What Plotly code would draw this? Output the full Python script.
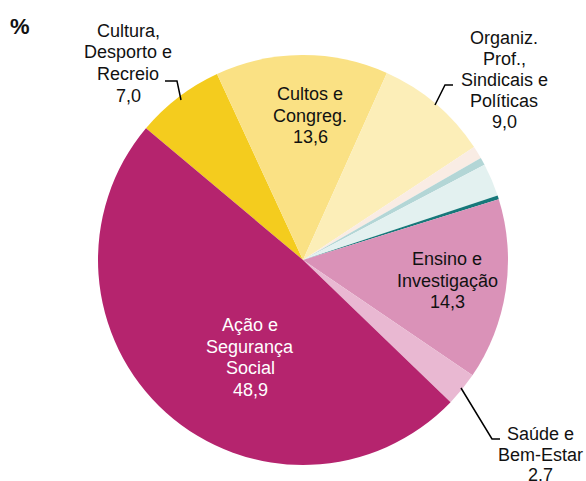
import plotly.graph_objects as go

OFF = 0
W, H = 586, 481

labels = ["Cultura, Desporto e Recreio", "Cultos e Congreg.", "Organiz. Prof., Sindicais e Políticas",
          "Outros 1", "Outros 2", "Outros 3", "Outros 4",
          "Ensino e Investigação", "Saúde e Bem-Estar", "Ação e Segurança Social"]
values = [7.0, 13.6, 9.0, 1.0, 0.6, 2.6, 0.3, 14.3, 2.7, 48.9]
colors = ["#F4CC1E", "#FAE184", "#FCEEB8", "#F9ECE4", "#B3D6D6", "#E3F1F0", "#17787A",
          "#DA92B8", "#E9B8D2", "#B5246E"]

label_lines = {
    "Cultura": ["Cultura,", "Desporto e", "Recreio", "7,0"],
    "Cultos": ["Cultos e", "Congreg.", "13,6"],
    "Organiz": ["Organiz.", "Prof.,", "Sindicais e", "Políticas", "9,0"],
    "Ensino": ["Ensino e", "Investigação", "14,3"],
    "Acao": ["Ação e", "Segurança", "Social", "48,9"],
    "Saude": ["Saúde e", "Bem-Estar", "2.7"],
}

cx, cy, r = 303, 260, 205

def px(x, y):
    return (x - OFF) / W, 1 - (y - OFF) / H

x0, y1 = px(cx - r, cy - r)
x1, y0 = px(cx + r, cy + r)

fig = go.Figure(go.Pie(
    labels=labels, values=values, sort=False, direction="clockwise", rotation=-50,
    marker=dict(colors=colors, line=dict(width=0)),
    textinfo="none", hoverinfo="label+value", showlegend=False,
    domain=dict(x=[x0, x1], y=[y0, y1]),
))

FS = 18
ann = []
def add(key, x, y_first, step=21.5, color="#111111"):
    for i, line in enumerate(label_lines[key]):
        xx, yy = px(x, y_first + i * step)
        ann.append(dict(x=xx, y=yy, xref="paper", yref="paper", text=line,
                        showarrow=False, align="center", xanchor="center", yanchor="middle",
                        font=dict(family="Liberation Sans, Arial", size=FS, color=color)))

add("Cultura", 128, 31)
add("Cultos", 310, 94)
add("Organiz", 504, 38, step=21)
add("Ensino", 447, 259)
add("Acao", 250, 325, color="white")
add("Saude", 540, 434, step=20.5)

xx, yy = px(20, 26)
ann.append(dict(x=xx, y=yy, xref="paper", yref="paper", text="<b>%</b>", showarrow=False,
                xanchor="center", yanchor="middle",
                font=dict(family="Liberation Sans, Arial", size=22, color="#111111")))

shapes = []
def path(points):
    d = ""
    for i, (x, y) in enumerate(points):
        X, Y = px(x, y)
        d += ("M" if i == 0 else "L") + f"{X},{Y} "
    shapes.append(dict(type="path", xref="paper", yref="paper", path=d,
                       line=dict(color="black", width=1.5)))

path([(165, 81), (177, 81), (181, 100)])
path([(453, 85), (445, 85), (435, 105)])
path([(461, 388), (492, 439), (500, 439)])

fig.update_layout(width=W, height=H, margin=dict(l=0, r=0, t=0, b=0),
                  paper_bgcolor="white", plot_bgcolor="white",
                  annotations=ann, shapes=shapes,
                  font=dict(family="Liberation Sans, Arial", size=FS, color="#111111"))
fig.write_html("out.html", config={"displayModeBar": False},
               post_script="document.body.style.margin='0';document.body.style.overflow='hidden';")
